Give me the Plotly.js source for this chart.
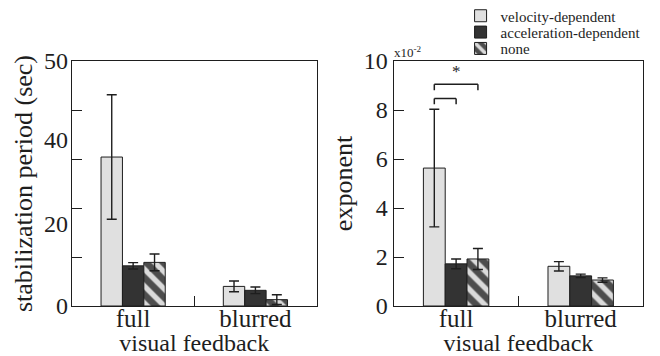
<!DOCTYPE html>
<html>
<head>
<meta charset="utf-8">
<script src="https://cdn.plot.ly/plotly-3.0.1.min.js"></script>
<style>html,body{margin:0;padding:0;background:#fff;}#chart{width:660px;height:356px;}</style>
</head>
<body>
<div id="chart"></div>
<script>
// ---------- data ----------
var categories = ['full', 'blurred'];
var seriesNames = ['velocity-dependent', 'acceleration-dependent', 'none'];

// stabilization period (sec)
var stabVelocity = [30.4, 4.0];
var stabAccel    = [8.2, 3.2];
var stabNone     = [8.9, 1.3];
var stabVelocityErr = [12.7, 1.1];
var stabAccelErr    = [0.65, 0.68];
var stabNoneErr     = [1.7, 1.0];

// exponent (x10^-2)
var expVelocity = [5.63, 1.62];
var expAccel    = [1.72, 1.23];
var expNone     = [1.92, 1.06];
var expVelocityErr = [2.40, 0.19];
var expAccelErr    = [0.20, 0.07];
var expNoneErr     = [0.43, 0.09];

// axis ticks
var stabTickVals = [0, 10, 20, 30, 40, 50];
// tick labels as printed in the original figure (placed where they appear)
var stabLabelVals = [0, 16.9, 34.0, 50];
var stabLabelText = ['0', '20', '40', '50'];
var expTickVals = [0, 2, 4, 6, 8, 10];
var expTickText = ['0', '2', '4', '6', '8', '10'];

// significance brackets on exponent / full (series index pairs)
var sigFrom  = [0, 0];
var sigTo    = [1, 2];
var sigLevel = [8.47, 9.05];
var sigMark  = ['', '*'];

// ---------- styling ----------
var FONT = '"Liberation Serif", "Times New Roman", Times, serif';
var INK = '#1e1e1e';
var colors = ['#e0e0e0', '#333333', '#4d4d4d'];
var patterns = [
  {shape: ''},
  {shape: ''},
  {shape: '\\', bgcolor: '#4d4d4d', fgcolor: '#dadada', size: 12, solidity: 0.45, fillmode: 'replace'}
];
var BARGAP = 0.475;
var legendIds = ['legend', 'legend2', 'legend3'];

var stabMeans = [stabVelocity, stabAccel, stabNone];
var stabErrs  = [stabVelocityErr, stabAccelErr, stabNoneErr];
var expMeans  = [expVelocity, expAccel, expNone];
var expErrs   = [expVelocityErr, expAccelErr, expNoneErr];

var traces = [];
function barTrace(i, y, err, xa, ya, showLeg) {
  return {
    type: 'bar', x: categories, y: y, name: seriesNames[i],
    xaxis: xa, yaxis: ya, legend: legendIds[i], showlegend: showLeg,
    marker: {color: colors[i], line: {color: INK, width: 1}, pattern: patterns[i]},
    error_y: {type: 'data', array: err, visible: true, color: INK, thickness: 1.4, width: 5},
    hoverinfo: 'x+y+name'
  };
}
for (var i = 0; i < 3; i++) traces.push(barTrace(i, stabMeans[i], stabErrs[i], 'x', 'y', true));
for (var i = 0; i < 3; i++) traces.push(barTrace(i, expMeans[i], expErrs[i], 'x2', 'y2', false));
// empty trace to host the label axis
traces.push({type: 'scatter', x: [], y: [], xaxis: 'x', yaxis: 'y3', showlegend: false, hoverinfo: 'skip'});

// bracket shapes from series offsets
var nS = seriesNames.length;
function offset(k) { return (k - (nS - 1) / 2) * (1 - BARGAP) / nS; }
var shapes = [], annotations = [];
var legDrop = 0.24;
for (var s = 0; s < sigFrom.length; s++) {
  var xa0 = offset(sigFrom[s]), xa1 = offset(sigTo[s]), yv = sigLevel[s];
  var ln = {color: INK, width: 1.5};
  shapes.push({type: 'line', xref: 'x2', yref: 'y2', x0: xa0, x1: xa1, y0: yv, y1: yv, line: ln});
  shapes.push({type: 'line', xref: 'x2', yref: 'y2', x0: xa0, x1: xa0, y0: yv, y1: yv - legDrop, line: ln});
  shapes.push({type: 'line', xref: 'x2', yref: 'y2', x0: xa1, x1: xa1, y0: yv, y1: yv - legDrop, line: ln});
  if (sigMark[s]) {
    annotations.push({xref: 'x2', yref: 'y2', x: (xa0 + xa1) / 2, y: yv, yanchor: 'bottom', yshift: 1,
      text: sigMark[s], showarrow: false, font: {family: FONT, size: 17, color: INK}});
  }
}
annotations.push({xref: 'paper', yref: 'paper', x: 0.5636, y: 1, xanchor: 'left', yanchor: 'bottom',
  text: 'x10<sup>-2</sup>', showarrow: false, font: {family: FONT, size: 13, color: INK}, xshift: -2, yshift: -1});

function xAxis(domain, anchor) {
  return {
    domain: domain, anchor: anchor, type: 'category', tickson: 'boundaries',
    ticks: 'inside', ticklen: 10, tickcolor: INK, tickwidth: 1,
    showline: true, mirror: true, linecolor: INK, linewidth: 1.2,
    showgrid: false, zeroline: false, range: [-0.5, 1.5],
    tickfont: {family: FONT, size: 25, color: INK}, ticklabelstandoff: -10,
    title: {text: 'visual feedback', font: {family: FONT, size: 24, color: INK}, standoff: 0}
  };
}

var layout = {
  width: 660, height: 356,
  margin: {l: 72, r: 17, t: 61, b: 50, autoexpand: false},
  paper_bgcolor: '#fff', plot_bgcolor: '#fff',
  font: {family: FONT, color: INK},
  barmode: 'group', bargap: BARGAP, bargroupgap: 0,
  xaxis: xAxis([0, 0.4283], 'y'),
  xaxis2: xAxis([0.5636, 1], 'y2'),
  yaxis: {
    anchor: 'x', range: [0, 50], tickmode: 'array', tickvals: stabTickVals,
    ticks: 'inside', ticklen: 10, tickcolor: INK, showticklabels: false,
    showline: true, mirror: true, linecolor: INK, linewidth: 1.2,
    showgrid: false, zeroline: false
  },
  yaxis3: {
    anchor: 'x', overlaying: 'y', side: 'left', range: [0, 50],
    tickmode: 'array', tickvals: stabLabelVals, ticktext: stabLabelText,
    ticks: '', showline: false, showgrid: false, zeroline: false,
    tickfont: {family: FONT, size: 24, color: INK}, ticklabelstandoff: 3,
    title: {text: 'stabilization period (sec)', font: {family: FONT, size: 26, color: INK}, standoff: 3}
  },
  yaxis2: {
    anchor: 'x2', range: [0, 10], tickmode: 'array', tickvals: expTickVals, ticktext: expTickText,
    ticks: 'inside', ticklen: 10, tickcolor: INK,
    showline: true, mirror: true, linecolor: INK, linewidth: 1.2,
    showgrid: false, zeroline: false,
    tickfont: {family: FONT, size: 24, color: INK},
    title: {text: 'exponent', font: {family: FONT, size: 26, color: INK}, standoff: 3}
  },
  shapes: shapes,
  annotations: annotations
};
var legFont = {family: FONT, size: 15, color: INK};
var legX = 0.6805;
var legY = [1.1837, 1.117, 1.0502];
layout.legend  = {x: legX, xanchor: 'left', y: legY[0], yanchor: 'middle', font: legFont, bgcolor: 'rgba(0,0,0,0)', borderwidth: 0};
layout.legend2 = {x: legX, xanchor: 'left', y: legY[1], yanchor: 'middle', font: legFont, bgcolor: 'rgba(0,0,0,0)', borderwidth: 0};
layout.legend3 = {x: legX, xanchor: 'left', y: legY[2], yanchor: 'middle', font: legFont, bgcolor: 'rgba(0,0,0,0)', borderwidth: 0};

Plotly.newPlot('chart', traces, layout, {displayModeBar: false, staticPlot: true});
</script>
</body>
</html>
